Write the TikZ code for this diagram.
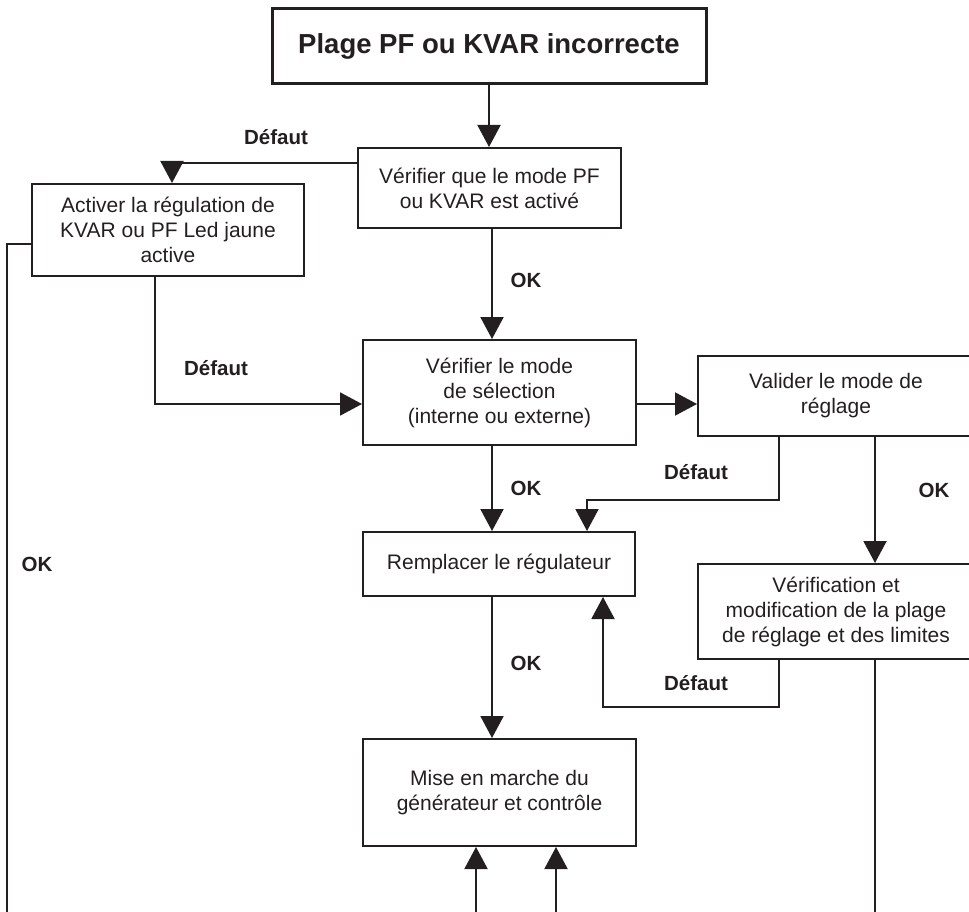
\documentclass[tikz,border=0pt]{standalone}
\usepackage{fontspec}
\setmainfont{Liberation Sans}
\usetikzlibrary{arrows.meta}
\definecolor{ink}{HTML}{231F20}

\begin{document}
\begin{tikzpicture}[x=1pt, y=-1pt, >={Triangle[length=22pt,width=23pt]}, line width=2pt, color=ink,
  box/.style={draw=ink, line width=2pt, inner sep=0pt, align=center, font=\fontsize{21}{25}\selectfont},
  lbl/.style={font=\fontsize{20.5}{24}\selectfont\bfseries}]
        \useasboundingbox (0,0) rectangle (969,912);
        \clip (0,0) rectangle (969,912);

        \node[box, line width=3pt, minimum width=434pt, minimum height=75pt, font=\fontsize{27.5}{32}\selectfont\bfseries] (title) at (489,46.5) {Plage PF ou KVAR incorrecte};
        \node[box, minimum width=263pt, minimum height=80pt] (chk) at (489.5,188) {Vérifier que le mode PF\\ou KVAR est activé};
        \node[box, minimum width=272pt, minimum height=92pt] (act) at (168,230) {Activer la régulation de\\KVAR ou PF Led jaune\\active};
        \node[box, minimum width=273pt, minimum height=105pt] (sel) at (499.5,392.5) {Vérifier le mode\\de sélection\\(interne ou externe)};
        \node[box, minimum width=276pt, minimum height=80pt] (val) at (836,396) {Valider le mode de\\réglage};
        \node[box, minimum width=272pt, minimum height=64pt] (rem) at (499,564) {Remplacer le régulateur};
        \node[box, minimum width=276pt, minimum height=95pt] (verif) at (836,611.5) {Vérification et\\modification de la plage\\de réglage et des limites};
        \node[box, minimum width=273pt, minimum height=107pt] (mise) at (499.5,792.5) {Mise en marche du\\générateur et contrôle};

        \coordinate (cA) at (172,0);
        \coordinate (cL) at (155,0);
        \coordinate (cE) at (7,0);
        \coordinate (cM) at (492,0);
        \coordinate (cD) at (779,0);
        \coordinate (cO) at (875,0);
        \coordinate (cR1) at (587,0);
        \coordinate (cR2) at (603,0);
        \coordinate (cB1) at (476,0);
        \coordinate (cB2) at (556,0);
        \coordinate (r1) at (0,163);
        \coordinate (r2) at (0,244);
        \coordinate (r3) at (0,404);
        \coordinate (r4) at (0,500);
        \coordinate (r5) at (0,707);
        \coordinate (bot) at (0,920);

        \draw[->] (title.south) -- (title.south |- chk.north);
        \draw[->] (chk.west |- r1) -| (cA |- act.north);
        \draw (act.west |- r2) -| (cE |- bot);
        \draw[->] (cL |- act.south) |- (sel.west |- r3);
        \draw[->] (cM |- chk.south) -- (cM |- sel.north);
        \draw[->] (sel.east |- r3) -- (val.west |- r3);
        \draw[->] (cD |- val.south) |- (cR1 |- r4) -- (cR1 |- rem.north);
        \draw[->] (cO |- val.south) -- (cO |- verif.north);
        \draw[->] (cM |- sel.south) -- (cM |- rem.north);
        \draw[->] (cD |- verif.south) |- (cR2 |- r5) -- (cR2 |- rem.south);
        \draw (cO |- verif.south) -- (cO |- bot);
        \draw[->] (cM |- rem.south) -- (cM |- mise.north);
        \draw[->] (cB1 |- bot) -- (cB1 |- mise.south);
        \draw[->] (cB2 |- bot) -- (cB2 |- mise.south);

        \node[lbl] (d1) at (276,137) {Défaut};
        \node[lbl] (ok1) at (526,280) {OK};
        \node[lbl] (d2) at (216,368) {Défaut};
        \node[lbl] (d3) at (696,472) {Défaut};
        \node[lbl] (ok2) at (934,490) {OK};
        \node[lbl] (ok3) at (526,488) {OK};
        \node[lbl] (d4) at (696,683) {Défaut};
        \node[lbl] (ok4) at (526,663) {OK};
        \node[lbl] (ok5) at (37,564) {OK};
    \end{tikzpicture}
\end{document}
